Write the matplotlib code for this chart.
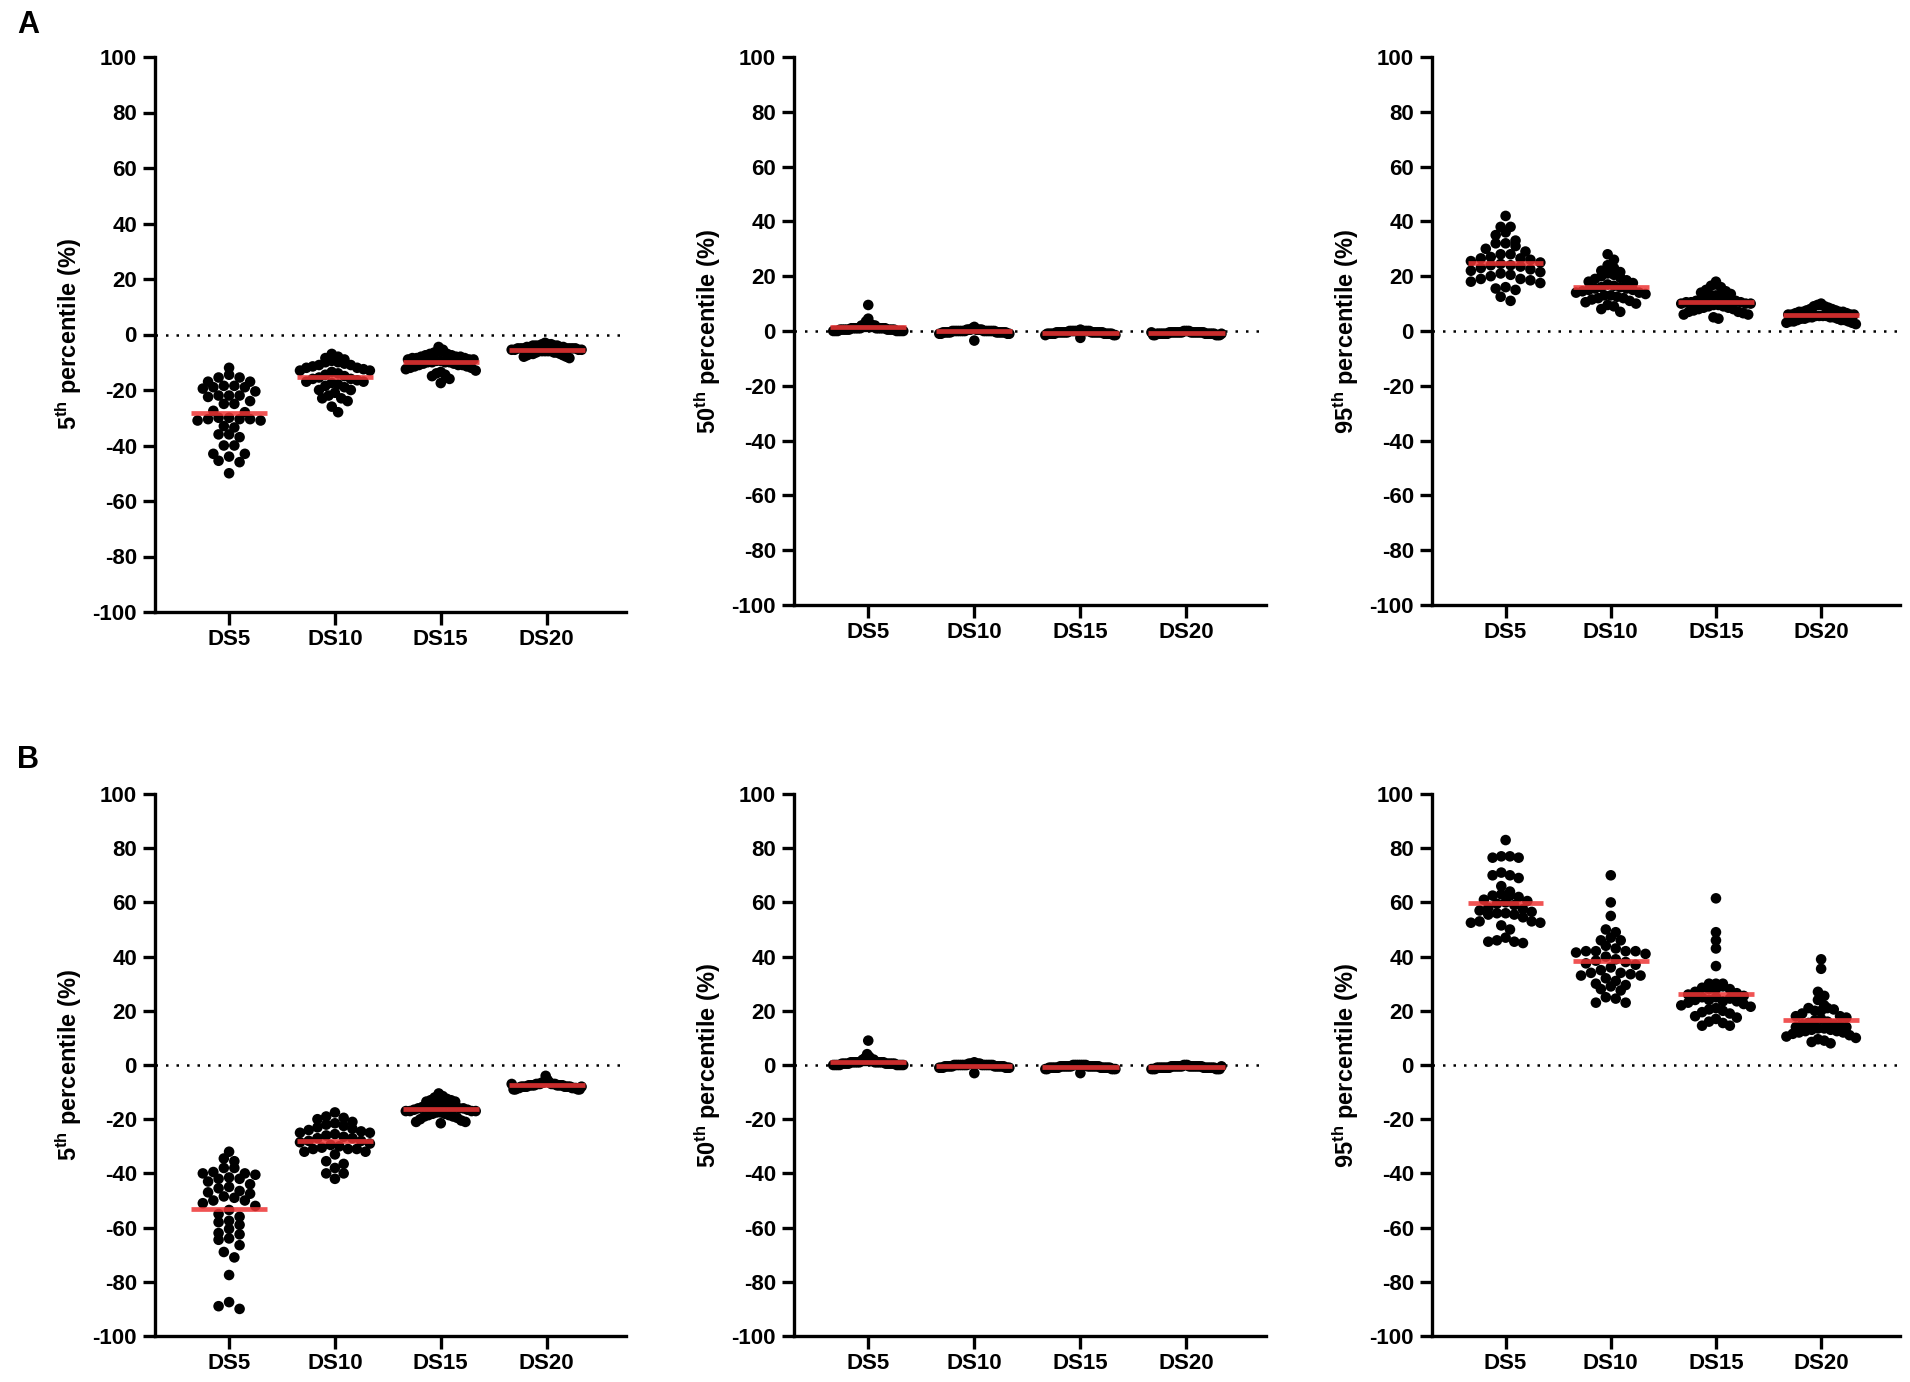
import numpy as np
import matplotlib.pyplot as plt

plt.rcParams['font.family'] = ['Liberation Sans', 'DejaVu Sans']
plt.rcParams['font.weight'] = 'bold'
plt.rcParams['axes.unicode_minus'] = False
plt.rcParams['mathtext.fontset'] = 'custom'
plt.rcParams['mathtext.rm'] = 'Liberation Sans:bold'
plt.rcParams['mathtext.bf'] = 'Liberation Sans:bold'

groups = ["DS5", "DS10", "DS15", "DS20"]
yticks = list(range(-100, 101, 20))

# ---- row A ----
a5_ds5 = [-12, -14.5, -15.5, -15.5, -17, -17, -18.5, -18.5, -19, -19, -19.5, -20.5, -22, -22, -22,
          -22.5, -24, -25, -25, -27.5, -28, -30, -30, -30.5, -30.5, -30.5, -31, -31, -33, -33.5,
          -36, -36, -37, -40, -40, -43, -43, -44, -45.5, -46, -50]
a5_ds10 = [-7, -8, -8.5, -9, -9.5, -10, -10, -10.5, -11, -11, -11.5, -12, -12, -12.5, -13, -13,
           -13.5, -14, -14.5, -15, -15.5, -16, -16, -16.5, -17, -17, -17.5, -18, -18.5, -19, -20,
           -20, -21, -22, -23, -23, -24, -26, -28]
a5_ds15 = [-4.5, -5.5, -6, -6, -6.5, -7, -7, -7.5, -7.5, -8, -8, -8, -8.5, -8.5, -8.5, -9, -9, -9,
           -9.5, -9.5, -10, -10, -10, -10, -10.5, -10.5, -11, -11, -11, -11.5, -11.5, -12, -12,
           -12.5, -13, -13.5, -14, -14.5, -15, -16, -17.5]
a5_ds20 = [-3, -3.5, -3.5, -3.5, -4, -4, -4, -4, -4, -4.5, -4.5, -4.5, -4.5, -5, -5, -5, -5, -5,
           -5, -5, -5.5, -5.5, -5.5, -5.5, -6, -6, -6, -6, -6, -6.5, -6.5, -6.5, -7, -7, -7,
           -7.5, -7.5, -8, -8, -8.5]

a50_ds5 = [9.5, 4.5, 3.5, 2.5, 2, 2, 2, 2, 1.5, 1.5, 1.5, 1.5, 1.5, 1.5, 1, 1, 1, 1, 1, 1, 1, 1,
           1, 1, 0.5, 0.5, 0.5, 0.5, 0.5, 0.5, 0.5, 0.5, 0.5, 0, 0, 0, 0, 0, 0, 0]
a50_ds10 = [1.5, 1, 0.5, 0.5, 0.5, 0.5, 0.5, 0.5, 0.5, 0, 0, 0, 0, 0, 0, 0, 0, 0, 0, 0, 0, 0, 0,
            0, -0.5, -0.5, -0.5, -0.5, -0.5, -0.5, -0.5, -0.5, -0.5, -0.5, -0.5, -1, -1, -1,
            -1, -3.5]
a50_ds15 = [0.5, 0, 0, 0, 0, 0, 0, 0, 0, 0, 0, 0, -0.5, -0.5, -0.5, -0.5, -0.5, -0.5, -0.5, -0.5,
            -0.5, -0.5, -0.5, -0.5, -0.5, -0.5, -1, -1, -1, -1, -1, -1, -1, -1, -1, -1, -1.5,
            -1.5, -1.5, -2.5]
a50_ds20 = [0, 0, 0, 0, -0.5, -0.5, -0.5, -0.5, -0.5, -0.5, -0.5, -0.5, -0.5, -0.5, -0.5, -0.5,
            -0.5, -0.5, -0.5, -0.5, -1, -1, -1, -1, -1, -1, -1, -1, -1, -1, -1, -1, -1, -1.5,
            -1.5, -1.5, -1.5, -1.5, -0.5, -1]

a95_ds5 = [42, 38, 38, 36, 35, 33, 32, 32, 31, 30, 29, 28, 28, 27, 26.5, 26.5, 26, 25.5, 25, 24.5,
           24, 24, 23.5, 23, 22.5, 22, 21.5, 21, 20.5, 20, 19, 19, 18.5, 18, 17.5, 16, 15.5, 15,
           12.5, 11]
a95_ds10 = [28, 26, 24, 23, 22, 21.5, 21, 20.5, 20, 19.5, 19, 18.5, 18, 17.5, 17, 16.5, 16, 16,
            15.5, 15.5, 15, 15, 14.5, 14, 14, 13.5, 13, 13, 12.5, 12, 12, 11.5, 11, 10.5, 10,
            9.5, 9, 8, 7]
a95_ds15 = [18, 17, 16.5, 16, 15, 14.5, 14, 13.5, 13, 13, 12.5, 12, 12, 11.5, 11.5, 11, 11, 10.5,
            10.5, 10.5, 10, 10, 10, 9.5, 9.5, 9, 9, 8.5, 8.5, 8, 8, 7.5, 7, 7, 6.5, 6, 6, 5, 4.5]
a95_ds20 = [10, 9.5, 9.5, 9, 9, 8.5, 8, 8, 7.5, 7.5, 7, 7, 7, 7, 6.5, 6.5, 6, 6, 6, 6, 5.5, 5.5,
            5.5, 5.5, 5, 5, 5, 5, 4.5, 4.5, 4.5, 4, 4, 4, 3.5, 3.5, 3.5, 3, 3, 2.5]

# ---- row B ----
b5_ds5 = [-32, -34.5, -35.5, -38, -38, -39.5, -40, -40, -40.5, -41.5, -42, -42, -43, -44, -45,
          -45.5, -46.5, -47, -47.5, -48.5, -49, -50, -50, -51, -52, -53.5, -55, -56, -57.5, -58,
          -59, -60.5, -62, -62.5, -64, -64.5, -66.5, -69, -71, -77.5, -87.5, -89, -90]
b5_ds10 = [-17.5, -19, -19.5, -20, -21, -21.5, -22, -22.5, -23, -23.5, -24, -24.5, -25, -25,
           -25.5, -26, -26.5, -27, -27, -28, -28, -28.5, -29, -29.5, -30, -30.5, -31, -31, -31,
           -32, -32, -33, -35.5, -36.5, -38, -40, -40, -42]
b5_ds15 = [-10.5, -11.5, -12, -12.5, -13, -13, -13.5, -13.5, -14, -14, -14.5, -14.5, -15, -15,
           -15, -15.5, -15.5, -16, -16, -16, -16.5, -16.5, -17, -17, -17, -17, -17.5, -17.5,
           -18, -18, -18.5, -18.5, -19, -19, -19.5, -20, -20.5, -21, -21, -21.5]
b5_ds20 = [-4, -5.5, -6, -6, -6.5, -6.5, -6.5, -7, -7, -7, -7, -7, -7, -7.5, -7.5, -7.5, -7.5,
           -7.5, -7.5, -7.5, -7.5, -8, -8, -8, -8, -8, -8, -8, -8, -8.5, -8.5, -8.5, -8.5, -8.5,
           -9, -9, -9, -9, -7, -8]

b50_ds5 = [9, 4, 3, 2.5, 2, 2, 2, 1.5, 1.5, 1.5, 1.5, 1.5, 1.5, 1, 1, 1, 1, 1, 1, 1, 1, 1, 1,
           0.5, 0.5, 0.5, 0.5, 0.5, 0.5, 0.5, 0.5, 0.5, 0, 0, 0, 0, 0, 0, 0, 0]
b50_ds10 = [1, 0.5, 0.5, 0.5, 0.5, 0.5, 0.5, 0, 0, 0, 0, 0, 0, 0, 0, 0, 0, 0, 0, 0, 0, 0,
            -0.5, -0.5, -0.5, -0.5, -0.5, -0.5, -0.5, -0.5, -0.5, -0.5, -0.5, -1, -1, -1, -1,
            -1, -1, -3]
b50_ds15 = [0, 0, 0, 0, 0, 0, 0, 0, -0.5, -0.5, -0.5, -0.5, -0.5, -0.5, -0.5, -0.5, -0.5, -0.5,
            -0.5, -0.5, -0.5, -0.5, -1, -1, -1, -1, -1, -1, -1, -1, -1, -1, -1, -1, -1.5, -1.5,
            -1.5, -1.5, -1.5, -3]
b50_ds20 = [0, 0, 0, -0.5, -0.5, -0.5, -0.5, -0.5, -0.5, -0.5, -0.5, -0.5, -0.5, -0.5, -0.5,
            -0.5, -0.5, -0.5, -1, -1, -1, -1, -1, -1, -1, -1, -1, -1, -1, -1, -1, -1, -1, -1.5,
            -1.5, -1.5, -1.5, -1.5, -1.5, -0.5]

b95_ds5 = [83, 77, 77, 76.5, 76.5, 71, 70, 70, 69, 66, 64, 63, 62.5, 62.5, 62, 61, 60.5, 60,
           59.5, 59, 58, 57.5, 57, 56.5, 56, 56, 55.5, 55.5, 54.5, 53, 53, 52.5, 52.5, 51.5, 50,
           47, 46, 45.5, 45.5, 45]
b95_ds10 = [70, 60, 55, 50, 49, 47, 46, 46, 44, 43, 42, 42, 42, 42, 41.5, 41, 40, 39, 38.5, 38,
            37.5, 37, 36, 35, 34, 34, 33.5, 33, 33, 32, 31, 30, 29.5, 29, 28, 27.5, 25, 24.5, 23,
            23]
b95_ds15 = [61.5, 49, 46, 43, 36.5, 30, 30, 30, 28, 28, 25, 24, 23.5, 29, 28.5, 28, 27, 26.5, 26,
            25.5, 25, 24.5, 24, 23.5, 23, 22.5, 22, 21.5, 21, 20.5, 20, 19.5, 19, 18, 17.5, 17,
            16, 15.5, 14.5, 14.5]
b95_ds20 = [39, 35.5, 27, 25.5, 24, 20, 20, 22, 21, 21, 20.5, 19, 18, 18, 17.5, 17, 16.5, 16,
            15.5, 15, 15, 14.5, 14, 14, 13.5, 13.5, 13, 13, 12.5, 12.5, 12, 12, 11.5, 11, 10.5,
            10, 9.5, 9, 8.5, 8]

FIG_W, FIG_H = 1910, 1382
fig = plt.figure(figsize=(FIG_W / 100, FIG_H / 100), dpi=100)

# axes boxes in pixels: (left, top, right, bottom)
boxes = {
    (0, 0): (155, 57, 626, 612),
    (0, 1): (794, 57, 1266, 605),
    (0, 2): (1432, 57, 1900, 605),
    (1, 0): (155, 794, 626, 1336),
    (1, 1): (794, 794, 1266, 1336),
    (1, 2): (1432, 794, 1900, 1336),
}

panels = [
    ((0, 0), "5", [a5_ds5, a5_ds10, a5_ds15, a5_ds20]),
    ((0, 1), "50", [a50_ds5, a50_ds10, a50_ds15, a50_ds20]),
    ((0, 2), "95", [a95_ds5, a95_ds10, a95_ds15, a95_ds20]),
    ((1, 0), "5", [b5_ds5, b5_ds10, b5_ds15, b5_ds20]),
    ((1, 1), "50", [b50_ds5, b50_ds10, b50_ds15, b50_ds20]),
    ((1, 2), "95", [b95_ds5, b95_ds10, b95_ds15, b95_ds20]),
]

XLIM = (0.3, 4.75)
DOT_PX = 10.5
HALF_W = 0.33


def swarm(vals, ppx, ppy):
    # GraphPad-like binned scatter: rows of one dot height, dots spread side by side
    y = np.asarray(vals, float) * ppy
    bins = np.floor(y / DOT_PX + 0.5).astype(int)
    xs = np.zeros(len(y))
    for bval in np.unique(bins):
        idx = np.where(bins == bval)[0]
        n = len(idx)
        offs = (np.arange(n) - (n - 1) / 2.0) * DOT_PX
        order = np.argsort(np.abs(offs), kind='stable')
        xs[idx] = offs[order]
    xs = xs / ppx
    m = np.abs(xs).max()
    if m > HALF_W:
        xs = xs * HALF_W / m
    return xs


for (r, c), pct, data in panels:
    l, t, rr, b = boxes[(r, c)]
    ax = fig.add_axes([l / FIG_W, 1 - b / FIG_H, (rr - l) / FIG_W, (b - t) / FIG_H])
    ax.set_xlim(*XLIM)
    ax.set_ylim(-100, 100)
    ppx = (rr - l) / (XLIM[1] - XLIM[0])
    ppy = (b - t) / 200.0
    ax.axhline(0, color='black', lw=1.8, ls=(0, (1, 3.2)), zorder=1)
    for i, vals in enumerate(data):
        xpos = i + 1
        off = swarm(vals, ppx, ppy)
        ax.scatter(xpos + off, vals, s=58, color='black', edgecolors='none', zorder=2, clip_on=False)
        ax.hlines(np.mean(vals), xpos - 0.36, xpos + 0.36, color='#ee3535', lw=3.4, alpha=0.85, zorder=3)
    for s in ['top', 'right']:
        ax.spines[s].set_visible(False)
    for s in ['left', 'bottom']:
        ax.spines[s].set_linewidth(2.4)
    ax.set_yticks(yticks)
    ax.set_xticks(range(1, 5))
    ax.set_xticklabels(groups)
    ax.tick_params(axis='both', width=2.4, length=9, labelsize=16, pad=4)
    ax.tick_params(axis='x', pad=3)
    for lab in ax.get_xticklabels() + ax.get_yticklabels():
        lab.set_fontweight('bold')
    ax.set_ylabel(r"$\mathbf{%s^{th}}$ percentile (%%)" % pct, fontsize=17, fontweight='bold', labelpad=6)

fig.text(17 / FIG_W, 1 - 25 / FIG_H, "A", fontsize=22, fontweight='bold', ha='left', va='center')
fig.text(17 / FIG_W, 1 - 760 / FIG_H, "B", fontsize=22, fontweight='bold', ha='left', va='center')

fig.savefig("out.png", dpi=100)
